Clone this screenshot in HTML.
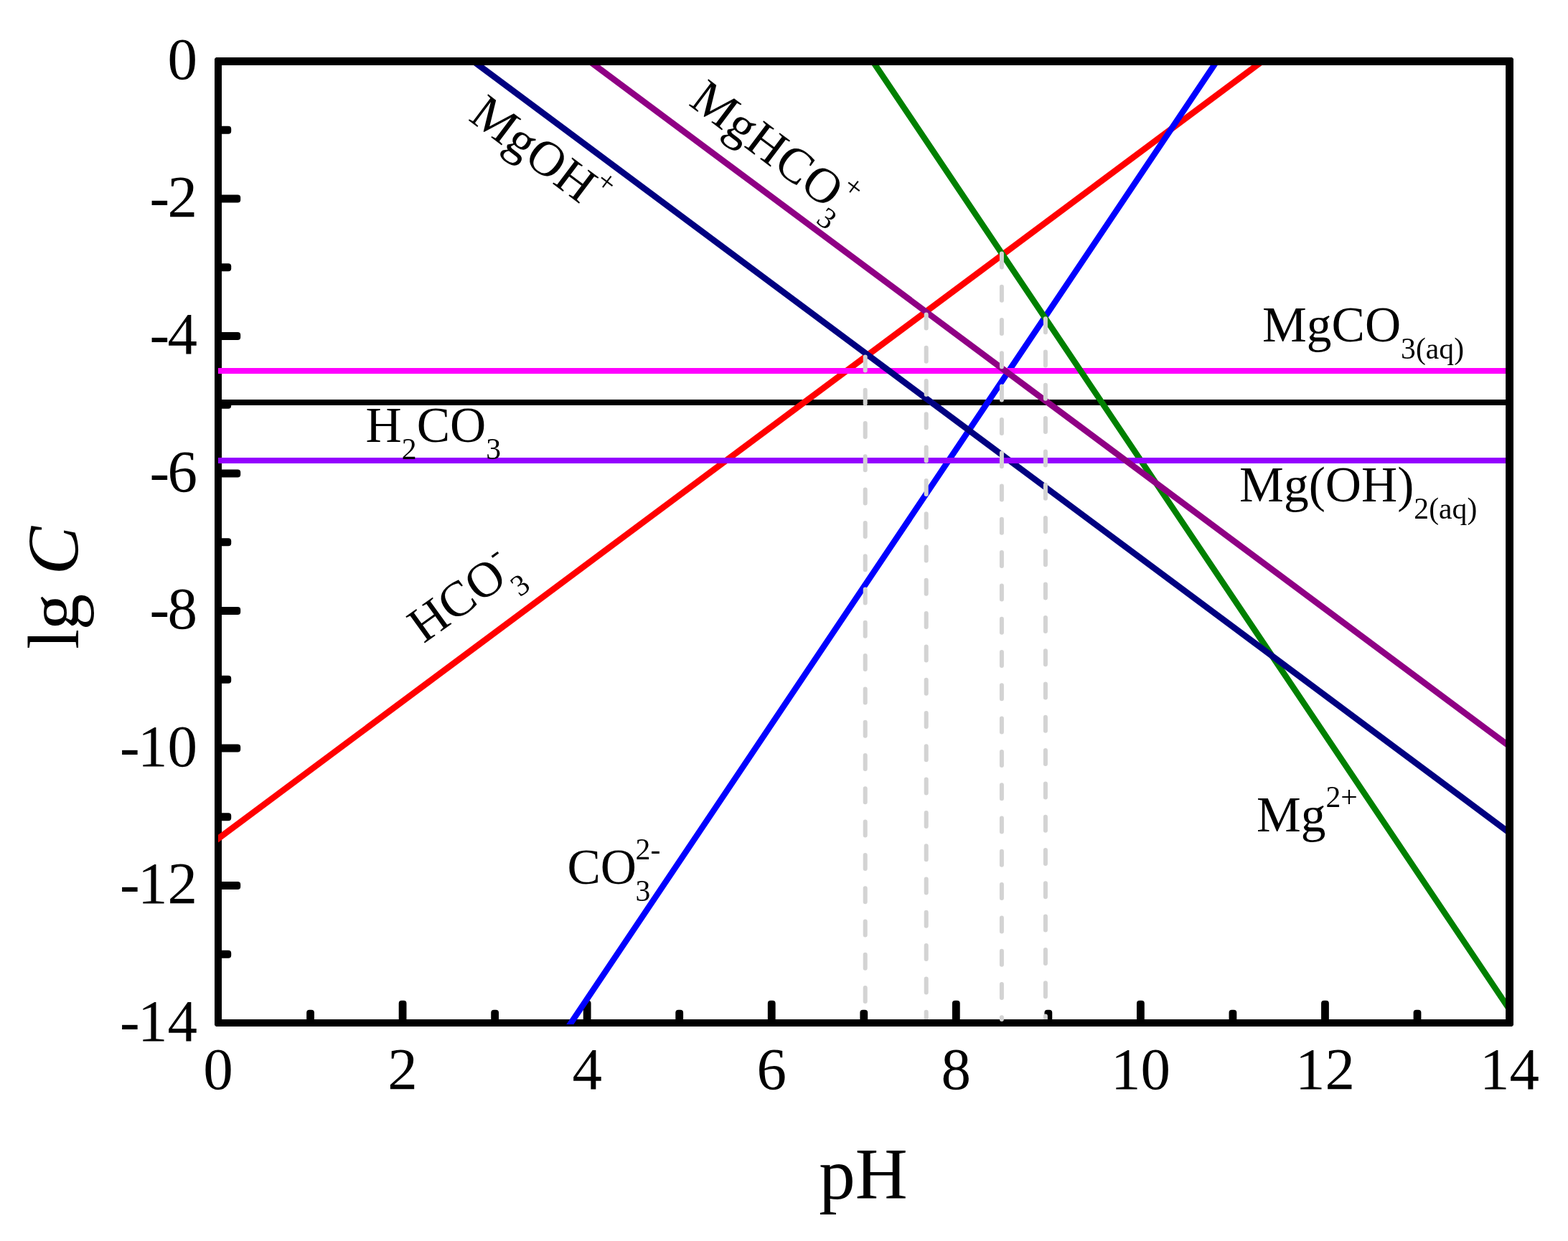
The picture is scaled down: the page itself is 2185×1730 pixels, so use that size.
<!DOCTYPE html>
<html lang="en"><head><meta charset="utf-8"><title>lg C - pH diagram</title>
<style>
html,body{margin:0;padding:0;background:#fff;}
body{width:2185px;height:1730px;overflow:hidden;}
svg{display:block;}
text{font-family:"Liberation Serif", "Times New Roman", Times, serif;fill:#000;font-kerning:none;font-variant-ligatures:none;}
.tick{font-size:83px;}
.lab{font-size:69.5px;}
.ss{font-size:41.7px;}
.ttl{font-size:101px;}
</style></head><body>
<svg width="2185" height="1730" viewBox="0 0 2185 1730">
<defs><clipPath id="plot"><rect x="304.00" y="80.00" width="1805.00" height="1348.00"/></clipPath></defs>
<rect x="0" y="0" width="2185" height="1730" fill="#ffffff"/>
<g id="axes-lb" fill="#000">
<rect x="299.00" y="80.00" width="10.00" height="1351.00" />
<rect x="299.00" y="1421.00" width="1810.00" height="10.00" />
<rect x="304.00" y="175.85" width="18.20" height="10.80" rx="4"/>
<rect x="427.14" y="1407.80" width="10.80" height="18.20" rx="4"/>
<rect x="304.00" y="271.60" width="31.20" height="10.80" rx="4"/>
<rect x="555.68" y="1394.80" width="10.80" height="31.20" rx="4"/>
<rect x="304.00" y="367.35" width="18.20" height="10.80" rx="4"/>
<rect x="684.22" y="1407.80" width="10.80" height="18.20" rx="4"/>
<rect x="304.00" y="463.10" width="31.20" height="10.80" rx="4"/>
<rect x="812.76" y="1394.80" width="10.80" height="31.20" rx="4"/>
<rect x="304.00" y="558.85" width="18.20" height="10.80" rx="4"/>
<rect x="941.30" y="1407.80" width="10.80" height="18.20" rx="4"/>
<rect x="304.00" y="654.60" width="31.20" height="10.80" rx="4"/>
<rect x="1069.84" y="1394.80" width="10.80" height="31.20" rx="4"/>
<rect x="304.00" y="750.35" width="18.20" height="10.80" rx="4"/>
<rect x="1198.38" y="1407.80" width="10.80" height="18.20" rx="4"/>
<rect x="304.00" y="846.10" width="31.20" height="10.80" rx="4"/>
<rect x="1326.91" y="1394.80" width="10.80" height="31.20" rx="4"/>
<rect x="304.00" y="941.85" width="18.20" height="10.80" rx="4"/>
<rect x="1455.45" y="1407.80" width="10.80" height="18.20" rx="4"/>
<rect x="304.00" y="1037.60" width="31.20" height="10.80" rx="4"/>
<rect x="1583.99" y="1394.80" width="10.80" height="31.20" rx="4"/>
<rect x="304.00" y="1133.35" width="18.20" height="10.80" rx="4"/>
<rect x="1712.53" y="1407.80" width="10.80" height="18.20" rx="4"/>
<rect x="304.00" y="1229.10" width="31.20" height="10.80" rx="4"/>
<rect x="1841.07" y="1394.80" width="10.80" height="31.20" rx="4"/>
<rect x="304.00" y="1324.85" width="18.20" height="10.80" rx="4"/>
<rect x="1969.61" y="1407.80" width="10.80" height="18.20" rx="4"/>
</g>
<g id="lines" clip-path="url(#plot)" stroke-linecap="butt" fill="none">
<line x1="304.00" y1="561.00" x2="2109.00" y2="561.00" stroke="#000000" stroke-width="8.10"/>
<line x1="239.73" y1="1217.07" x2="1823.08" y2="37.62" stroke="#ff0000" stroke-width="8.60"/>
<line x1="753.89" y1="1488.24" x2="1730.79" y2="32.84" stroke="#0000ff" stroke-width="8.40"/>
<line x1="304.00" y1="517.00" x2="2109.00" y2="517.00" stroke="#ff00ff" stroke-width="8.10"/>
<line x1="1178.07" y1="28.62" x2="2142.11" y2="1464.87" stroke="#008000" stroke-width="8.40"/>
<line x1="599.64" y1="40.69" x2="2142.11" y2="1189.69" stroke="#000080" stroke-width="8.60"/>
<line x1="304.00" y1="642.00" x2="2109.00" y2="642.00" stroke="#9400ff" stroke-width="8.10"/>
<line x1="753.89" y1="35.04" x2="2142.11" y2="1069.14" stroke="#8f0084" stroke-width="8.60"/>
</g>
<clipPath id="gclip"><rect x="304.00" y="80.00" width="1805.00" height="1341.00"/></clipPath>
<g id="guides" clip-path="url(#gclip)" stroke="#d3d3d3" stroke-width="6" stroke-linecap="round" stroke-dasharray="19 27.3" fill="none">
<line x1="1205.70" y1="497.40" x2="1205.70" y2="1410.00"/>
<line x1="1290.70" y1="438.40" x2="1290.70" y2="1440.00"/>
<line x1="1456.90" y1="444.20" x2="1456.90" y2="1440.00"/>
</g>
<line x1="1395.9" y1="353.4" x2="1395.9" y2="1421" stroke="#d3d3d3" stroke-width="6" stroke-linecap="round" stroke-dasharray="19 27.3" fill="none"/>
<g id="axes-tr" fill="#000">
<rect x="299.00" y="80.00" width="1810.00" height="11.00" />
<rect x="2098.10" y="80.00" width="10.90" height="1351.00" />
</g>
<g id="chamfers" fill="#fff">
<polygon points="298.00,79.00 302.00,79.00 298.00,83.00"/>
<polygon points="2110.00,79.00 2106.00,79.00 2110.00,83.00"/>
<polygon points="298.00,1432.00 302.00,1432.00 298.00,1428.00"/>
<polygon points="2110.00,1432.00 2106.00,1432.00 2110.00,1428.00"/>
</g>
<g id="ticklabels" class="tick">
<text x="275" y="110.10" text-anchor="end">0</text>
<text x="275" y="301.60" text-anchor="end">-<tspan dx="-2.6">2</tspan></text>
<text x="275" y="493.10" text-anchor="end">-<tspan dx="-2.6">4</tspan></text>
<text x="275" y="684.60" text-anchor="end">-<tspan dx="-2.6">6</tspan></text>
<text x="275" y="876.10" text-anchor="end">-<tspan dx="-2.6">8</tspan></text>
<text x="275" y="1067.60" text-anchor="end">-<tspan dx="-2.6">10</tspan></text>
<text x="275" y="1259.10" text-anchor="end">-<tspan dx="-2.6">12</tspan></text>
<text x="275" y="1450.60" text-anchor="end">-<tspan dx="-2.6">14</tspan></text>
<text x="304.00" y="1518" text-anchor="middle">0</text>
<text x="561.08" y="1518" text-anchor="middle">2</text>
<text x="818.16" y="1518" text-anchor="middle">4</text>
<text x="1075.24" y="1518" text-anchor="middle">6</text>
<text x="1332.31" y="1518" text-anchor="middle">8</text>
<text x="1589.39" y="1518" text-anchor="middle">10</text>
<text x="1846.47" y="1518" text-anchor="middle">12</text>
<text x="2103.55" y="1518" text-anchor="middle">14</text>
</g>
<text class="ttl" x="1203" y="1671" text-anchor="middle">pH</text>
<text class="ttl" transform="translate(108.5,905.1) rotate(-90)">l<tspan dx="-1.3">g</tspan> <tspan dx="1.3" font-style="italic">C</tspan></text>
<text class="lab" transform="translate(651.2,166.5) rotate(37.0)"><tspan>MgOH</tspan><tspan class="ss" dy="-34" dx="-1.2">+</tspan></text>
<text class="lab" transform="translate(958.2,145.5) rotate(37.0)"><tspan>MgHCO</tspan><tspan class="ss" dy="24" dx="-3">3</tspan><tspan class="ss" dy="-58" dx="-18.65">+</tspan></text>
<text class="lab" transform="translate(1759.0,476.0)"><tspan>MgCO</tspan><tspan class="ss" dy="24">3(aq)</tspan></text>
<text class="lab" transform="translate(509.6,616.0)"><tspan>H</tspan><tspan class="ss" dy="24">2</tspan><tspan dy="-24">CO</tspan><tspan class="ss" dy="24">3</tspan></text>
<text class="lab" transform="translate(1727.1,699.0)"><tspan>Mg(OH)</tspan><tspan class="ss" dy="24">2(aq)</tspan></text>
<text class="lab" transform="translate(590.2,897.7) rotate(-35.7)"><tspan>HCO</tspan><tspan class="ss" dy="25.5">3</tspan><tspan class="ss" dy="-58.5" dx="-20.85">-</tspan></text>
<text class="lab" transform="translate(790.5,1232.0)"><tspan>CO</tspan><tspan class="ss" dy="24" dx="-1.5">3</tspan><tspan class="ss" dy="-58" dx="-20.85">2-</tspan></text>
<text class="lab" transform="translate(1750.9,1159.0)"><tspan>Mg</tspan><tspan class="ss" dy="-34">2+</tspan></text>
</svg>
</body></html>
